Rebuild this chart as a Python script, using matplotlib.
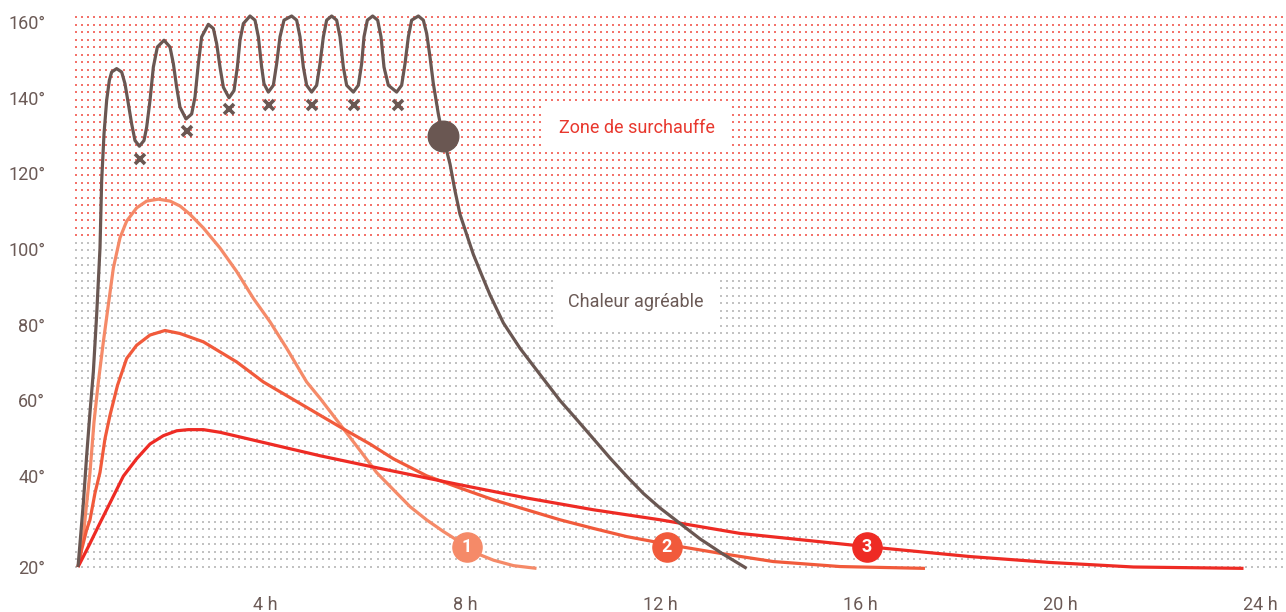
import numpy as np
import matplotlib
matplotlib.use("Agg")
import matplotlib.pyplot as plt

plt.rcParams['font.family'] = ['Roboto', 'DejaVu Sans']

# ---- data (hours, degrees) ----
# brown curve: overheating oven, thermostat oscillation then cooling
oven_t = [0, 0.04, 0.107, 0.173, 0.24, 0.307, 0.373, 0.44, 0.473, 0.52, 0.573, 0.627, 0.673, 0.773, 0.873,
          0.94, 1.007, 1.073, 1.14, 1.227, 1.32, 1.373, 1.44, 1.507, 1.587, 1.72, 1.84, 1.907, 1.973, 2.04,
          2.16, 2.273, 2.34, 2.407, 2.473, 2.607, 2.707, 2.773, 2.84, 2.907, 3.02, 3.12, 3.187, 3.24, 3.307,
          3.44, 3.54, 3.607, 3.673, 3.72, 3.807, 3.907, 3.973, 4.04, 4.12, 4.273, 4.373, 4.44, 4.507, 4.573,
          4.673, 4.773, 4.84, 4.907, 4.973, 5.073, 5.173, 5.24, 5.307, 5.373, 5.507, 5.607, 5.673, 5.72, 5.787,
          5.893, 5.993, 6.06, 6.12, 6.207, 6.373, 6.473, 6.54, 6.607, 6.673, 6.807, 6.907, 6.973, 7.04, 7.107,
          7.207, 7.293, 7.373, 7.44, 7.54, 7.64, 7.773, 7.907, 8.073, 8.24, 8.507, 8.84, 9.273, 9.64,
          9.973, 10.307, 10.64, 10.973, 11.307, 11.64, 12.04, 12.44, 12.907, 13.373]
oven_v = [20, 25.2, 34.1, 45.4, 56.9, 67.6, 82.6, 100.3, 118.0, 130.4, 139.3, 144.6, 146.8, 147.7, 146.8,
          143.7, 138.4, 133.1, 128.7, 127.2, 128.7, 132.2, 139.3, 148.1, 153.4, 155.2, 153.4, 149.0, 142.8, 137.5,
          134.4, 135.7, 140.2, 149.0, 156.1, 159.4, 158.3, 154.3, 148.1, 142.8, 140.0, 141.9, 148.1, 155.2, 159.6,
          161.6, 160.5, 156.1, 148.1, 143.7, 141.5, 143.3, 149.0, 156.1, 160.5, 161.6, 160.5, 156.1, 148.1, 143.3,
          141.5, 143.3, 149.0, 156.1, 160.5, 161.6, 160.5, 156.1, 148.1, 143.3, 141.5, 143.3, 149.0, 156.1, 160.5,
          161.6, 160.5, 156.1, 148.1, 143.3, 141.5, 143.3, 149.0, 156.1, 160.5, 161.6, 160.5, 157.0, 150.8, 143.7,
          135.7, 130.0, 126.0, 122.5, 115.4, 109.2, 103.9, 98.6, 93.2, 87.9, 80.5, 73.8, 66.3, 60.0,
          55.0, 49.9, 44.8, 40.0, 36.2, 33.0, 29.6, 26.2, 22.8, 19.7]

stop_t, stop_v = 7.29, 130.0

cross_t = [1.24, 2.17, 3.02, 3.82, 4.67, 5.52, 6.39]
cross_v = [123.8, 131.1, 136.9, 138.0, 138.0, 138.0, 138.0]

s1_t = [0, 0.04, 0.106, 0.16, 0.24, 0.32, 0.407, 0.507, 0.607, 0.707, 0.84, 0.973, 1.173, 1.373, 1.607,
        1.84, 2.04, 2.24, 2.507, 2.84, 3.173, 3.507, 3.84, 4.173, 4.573, 4.84, 5.31, 5.64, 5.97, 6.31, 6.64,
        6.97, 7.31, 7.64, 7.97, 8.31, 8.71, 9.17]
s1_v = [20, 22.3, 26.7, 32.6, 41.0, 54.3, 64.9, 75.5, 85.3, 95.0, 103.0, 107.4, 110.9, 112.7, 113.2,
        112.7, 111.4, 109.2, 105.6, 100.3, 94.1, 87.0, 80.8, 73.8, 64.9, 60.6, 52.5, 46.8, 41.0, 37.0, 33.3,
        30.4, 27.8, 25.5, 23.0, 21.5, 20.3, 19.7]

s2_t = [0, 0.073, 0.173, 0.24, 0.34, 0.44, 0.54, 0.64, 0.79, 0.973, 1.173, 1.44, 1.74, 2.04, 2.507, 3.173,
        3.707, 4.507, 5.307, 5.84, 6.307, 6.973, 7.64, 8.307, 8.973, 9.64, 10.307, 10.973, 12.04, 12.907,
        13.907, 15.24, 16.94]
s2_v = [20, 23.8, 28.2, 30.4, 36.3, 41.0, 49.9, 56.1, 64.0, 71.1, 74.6, 77.3, 78.5, 77.7, 75.5, 70.2,
        64.9, 58.7, 52.5, 48.5, 44.6, 40.1, 37.4, 34.8, 32.6, 30.4, 28.5, 26.7, 24.5, 22.9,
        21.2, 20.1, 19.7]

s3_t = [0, 0.107, 0.24, 0.44, 0.64, 0.907, 1.173, 1.44, 1.707, 1.973, 2.207, 2.507, 2.84, 3.84, 4.84, 5.84,
        7.64, 8.97, 10.31, 11.64, 13.24, 15.77, 17.84, 19.44, 21.11, 23.31]
s3_v = [20, 22.3, 25.2, 29.7, 34.1, 40.0, 44.6, 48.5, 50.7, 52.0, 52.3, 52.3, 51.6, 48.5, 45.4, 42.6,
        38.1, 35.2, 32.6, 30.4, 27.4, 24.5, 22.3, 21.0, 20.0, 19.7]

badge_labels = ['1', '2', '3']
badge_t = [7.78, 11.78, 15.78]
badge_v = [24.4, 24.4, 24.4]

y_ticks = [20, 40, 60, 80, 100, 120, 140, 160]
x_ticks = [4, 8, 12, 16, 20, 24]
hot_limit = 102

BROWN = '#6a5752'
TXT = '#6b5a56'
SERIES_COL = ['#f58a68', '#f15a3b', '#ee2b24']


def fwd(v):
    v = np.asarray(v, dtype=float)
    return np.where(v >= 40, v, 40 - (40 - v) * 1.2)


def inv(u):
    u = np.asarray(u, dtype=float)
    return np.where(u >= 40, u, 40 - (40 - u) / 1.2)


W, H = 1286, 612
fig = plt.figure(figsize=(W / 100, H / 100), dpi=100)
L, R, T, B = 73, 1285, 14.5, 571
ax = fig.add_axes([L / W, (H - B) / H, (R - L) / W, (B - T) / H])
ax.set_yscale('function', functions=(fwd, inv))
ax.set_xlim(-0.1, 24.14)
ax.set_ylim(19.12, 162)

# dotted background
cols = np.arange(76, 1284, 6.03)
rows = np.arange(17, 568, 7.53)
gx, gy = np.meshgrid(cols, rows)
gx, gy = gx.ravel(), gy.ravel()
vals = inv(160 - (gy - 22) / 3.765)
hot = vals > hot_limit
fx = (gx - L) / (R - L)
fy = (B - gy) / (B - T)
ax.scatter(fx[~hot], fy[~hot], s=1.3, marker='s', c='#c2c2c2', linewidths=0, transform=ax.transAxes, zorder=0)
ax.scatter(fx[hot], fy[hot], s=1.8, marker='s', c='#f3736b', linewidths=0, transform=ax.transAxes, zorder=0)

# curves
for tt, vv, col in zip([s1_t, s2_t, s3_t], [s1_v, s2_v, s3_v], SERIES_COL):
    ax.plot(tt, vv, color=col, lw=2.3, solid_capstyle='butt', solid_joinstyle='round', zorder=3)
ax.plot(oven_t, oven_v, color=BROWN, lw=2.3, solid_capstyle='butt', solid_joinstyle='round',
        zorder=4, clip_on=False)
ax.plot(cross_t, cross_v, ls='none', marker='x', ms=7, mew=2.6, color=BROWN, zorder=4)
ax.plot([stop_t], [stop_v], ls='none', marker='o', ms=22, color=BROWN, zorder=5)

for lab, tt, vv, col in zip(badge_labels, badge_t, badge_v, SERIES_COL):
    ax.plot([tt], [vv], marker='o', ms=21, color=col, zorder=6)
    ax.text(tt, vv, lab, color='white', fontsize=13, fontweight='bold', ha='center', va='center', zorder=7)

ax.text(11.18, 132.1, 'Zone de surchauffe', color='#e8382e', fontsize=13, ha='center', va='center',
        bbox=dict(boxstyle='square,pad=0.85', fc='white', ec='none'), zorder=2)
ax.text(11.16, 85.9, 'Chaleur agréable', color=TXT, fontsize=13, ha='center', va='center',
        bbox=dict(boxstyle='square,pad=0.85', fc='white', ec='none'), zorder=2)

ax.set_yticks(y_ticks)
ax.set_yticklabels([f'{v}°' for v in y_ticks])
ax.set_xticks(x_ticks)
ax.set_xticklabels([f'{v} h' for v in x_ticks], ha='right')
ax.minorticks_off()
ax.tick_params(axis='both', length=0, labelsize=13, labelcolor=TXT)
ax.tick_params(axis='y', pad=20)
ax.tick_params(axis='x', pad=18)
for s in ax.spines.values():
    s.set_visible(False)
ax.set_facecolor('none')

fig.savefig('out.png', dpi=100)
